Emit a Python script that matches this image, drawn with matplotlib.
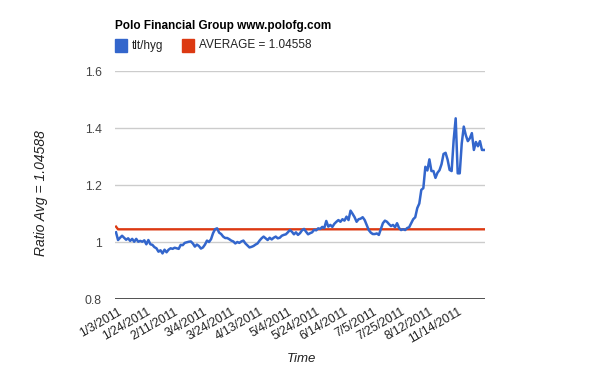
import matplotlib
matplotlib.use("Agg")
import matplotlib.pyplot as plt
from matplotlib.patches import Rectangle
from matplotlib.transforms import ScaledTranslation

plt.rcParams['font.family'] = ['Liberation Sans', 'DejaVu Sans']

title = "Polo Financial Group www.polofg.com"
series_name = "tlt/hyg"
avg_name = "AVERAGE = 1.04558"
ylabel = "Ratio Avg = 1.04588"
xlabel = "Time"

tick_labels = ["1/3/2011", "1/24/2011", "2/11/2011", "3/4/2011", "3/24/2011",
               "4/13/2011", "5/4/2011", "5/24/2011", "6/14/2011", "7/5/2011",
               "7/25/2011", "8/12/2011", "11/14/2011"]
label_every = 14

ratio = [
    # Jan - Feb
    1.035, 1.008, 1.016, 1.023, 1.016, 1.009, 1.014, 1.005, 1.012, 1.002,
    1.012, 1.002, 1.005, 1.002, 1.007, 0.993, 1.008, 0.993, 0.991, 0.983,
    0.979, 0.967, 0.972, 0.961, 0.974, 0.965, 0.974, 0.979, 0.977, 0.981,
    0.979, 0.977, 0.991, 0.990, 0.998,
    # Feb - Apr
    1.000, 1.002, 1.003, 0.996, 0.985, 0.992, 0.987, 0.978, 0.982, 0.992,
    1.006, 1.001, 1.011, 1.032, 1.046, 1.049, 1.034, 1.029, 1.020, 1.015,
    1.015, 1.011, 1.006, 1.003, 0.996, 1.001, 0.998, 1.003, 1.006, 0.996,
    0.989, 0.982, 0.984, 0.987, 0.992, 0.996, 1.006,
    # Apr - Jun
    1.014, 1.020, 1.014, 1.008, 1.016, 1.010, 1.016, 1.020, 1.014, 1.016,
    1.023, 1.026, 1.028, 1.035, 1.043, 1.037, 1.028, 1.035, 1.026, 1.032,
    1.042, 1.047, 1.037, 1.028, 1.032, 1.035, 1.044, 1.042, 1.049, 1.047,
    1.054, 1.050, 1.075, 1.055, 1.061, 1.054, 1.065, 1.072,
    # Jun - Aug
    1.078, 1.072, 1.081, 1.076, 1.090, 1.078, 1.111, 1.100, 1.088, 1.072,
    1.081, 1.083, 1.088, 1.078, 1.061, 1.043, 1.034, 1.029, 1.029, 1.031,
    1.026, 1.046, 1.067, 1.076, 1.072, 1.064, 1.057, 1.061, 1.053, 1.067,
    1.050, 1.043, 1.046, 1.043, 1.050, 1.053, 1.067, 1.081,
    # Aug - Nov
    1.088, 1.120, 1.136, 1.184, 1.190, 1.265, 1.252, 1.291, 1.250, 1.250,
    1.226, 1.244, 1.253, 1.274, 1.310, 1.314, 1.290, 1.254, 1.250, 1.359,
    1.435, 1.242, 1.242, 1.347, 1.406, 1.376, 1.355, 1.365, 1.383, 1.324,
    1.352, 1.337, 1.355, 1.324, 1.324,
]
avg_first = 1.055
avg_value = 1.04558
average = [avg_first] + [avg_value] * (len(ratio) - 1)

y_ticks = [0.8, 1.0, 1.2, 1.4, 1.6]
y_tick_labels = ["0.8", "1", "1.2", "1.4", "1.6"]

BLUE = "#3366cc"
RED = "#dc3912"

fig = plt.figure(figsize=(6.0, 3.71), dpi=100)
ax = fig.add_axes([115/600, 1 - 299.3/371, 370/600, 228/371])

x = list(range(len(ratio)))
ax.plot(x, average, color=RED, lw=1.7, zorder=3, solid_joinstyle='round')
ax.plot(x, ratio, color=BLUE, lw=1.8, zorder=4, solid_joinstyle='round')

ax.set_xlim(-0.5, len(ratio) - 0.5)
ax.set_ylim(0.8, 1.6)
ax.set_yticks(y_ticks)
ax.set_yticklabels(y_tick_labels)
for yt in y_ticks[1:]:
    ax.axhline(yt, color="#cccccc", lw=1.0, zorder=1)
ax.axhline(0.8, color="#333333", lw=1.2, zorder=2)

for s in ax.spines.values():
    s.set_visible(False)

tick_pos = [i * label_every for i in range(len(tick_labels))]
ax.set_xticks(tick_pos)
ax.set_xticklabels(tick_labels, rotation=30, ha='right', rotation_mode='anchor',
                   va='center')
ax.tick_params(axis='x', length=0, pad=8.5, labelsize=8.8, labelcolor="#222222")
ax.tick_params(axis='y', length=0, pad=9.5, labelsize=8.8, labelcolor="#444444")
shift = ScaledTranslation(5/100, 0, fig.dpi_scale_trans)
for lab in ax.get_xticklabels():
    lab.set_transform(lab.get_transform() + shift)

fig.text(115/600, 1 - 26.5/371, title, fontsize=8.5, fontweight='bold',
         va='center', ha='left', color='black')

# legend
fig.patches.append(Rectangle((115/600, 1 - 51.7/371), 11.7/600, 12.4/371,
                             transform=fig.transFigure, color=BLUE))
fig.text(132/600, 1 - 45.5/371, series_name, fontsize=8.5, va='center', ha='left',
         color='#222222')
fig.patches.append(Rectangle((181.7/600, 1 - 51.7/371), 12.3/600, 12.4/371,
                             transform=fig.transFigure, color=RED))
fig.text(199/600, 1 - 45.5/371, avg_name, fontsize=8.5, va='center', ha='left',
         color='#222222')

fig.text(41/600, 1 - 193/371, ylabel, fontsize=10, style='italic', rotation=90,
         va='center', ha='center', color='#222222')
fig.text(301/600, 1 - 359/371, xlabel, fontsize=9.5, style='italic',
         va='center', ha='center', color='#222222')

fig.savefig("out.png", dpi=100)
